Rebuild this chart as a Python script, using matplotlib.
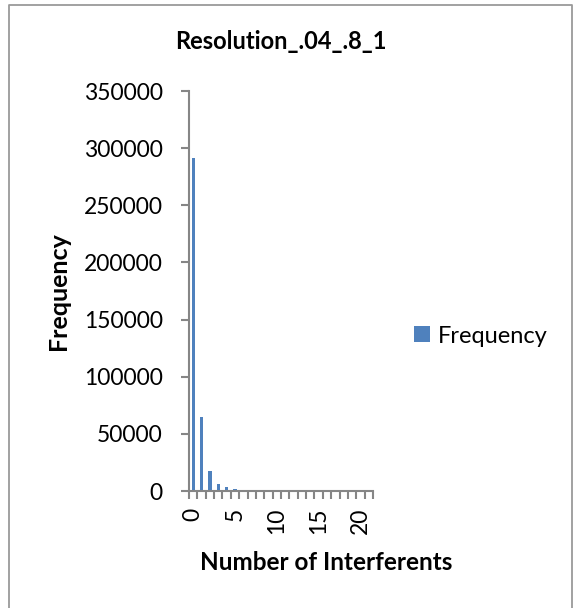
import numpy as np
import matplotlib

matplotlib.use("Agg")
import matplotlib.pyplot as plt
from matplotlib.lines import Line2D

# interferent count bins and how often each one occurs
bins = list(range(22))
freq = [291000, 64800, 17800, 6200, 3500, 1900, 1100, 600, 350, 200, 120,
        80, 50, 30, 20, 15, 10, 8, 5, 4, 3, 250]
tick_labels = ["0", "5", "10", "15", "20"]

bar_color = "#4F81BD"
axis_color = "#868686"
font = "Lato"

fig = plt.figure(figsize=(5.76, 6.08), dpi=100)
# chart frame: left, top and right edges
fig.lines.append(Line2D([9 / 576, 9 / 576, 572 / 576, 572 / 576],
                        [0, 603 / 608, 603 / 608, 0],
                        transform=fig.transFigure, color="#9a9a9a", lw=1.3))

ax = fig.add_axes([189 / 576, 117 / 608, 184 / 576, 400 / 608])
ax.bar(bins, freq, width=0.4, color=bar_color, label="Frequency", zorder=2)

ax.set_xlim(-0.5, len(bins) - 0.5)
ax.set_ylim(0, 350000)
ax.set_yticks(np.arange(0, 350001, 50000))
ax.set_yticklabels([str(v) for v in range(0, 350001, 50000)],
                   fontsize=16.5, family=font)
ax.tick_params(axis="y", length=6, width=1.5, color=axis_color, pad=13)

# boundary ticks on the category axis, labels every fifth bin
ax.set_xticks(np.arange(-0.5, len(bins), 1.0))
ax.set_xticklabels([])
ax.tick_params(axis="x", which="major", length=6, width=1.5, color=axis_color)
ax.set_xticks([int(t) for t in tick_labels], minor=True)
ax.set_xticklabels(tick_labels, minor=True, rotation=90, fontsize=16.5,
                   family=font)
ax.tick_params(axis="x", which="minor", length=0, pad=12)

for side in ("top", "right"):
    ax.spines[side].set_visible(False)
for side in ("left", "bottom"):
    ax.spines[side].set_color(axis_color)
    ax.spines[side].set_linewidth(1.5)

ax.set_title("Resolution_.04_.8_1", fontsize=17, fontweight="bold",
             family=font, pad=30)
ax.set_ylabel("Frequency", fontsize=18, fontweight="bold", family=font,
              labelpad=10)
ax.set_xlabel("Number of Interferents", fontsize=17.5, fontweight="bold",
              family=font)
ax.xaxis.set_label_coords(0.745, -0.15)

fig.legend(loc="center left", bbox_to_anchor=(393 / 576, 1 - 336 / 608),
           frameon=False, prop={"family": font, "size": 17},
           handlelength=0.65, handleheight=0.65, handletextpad=0.35)

fig.savefig("out.png", dpi=100)
